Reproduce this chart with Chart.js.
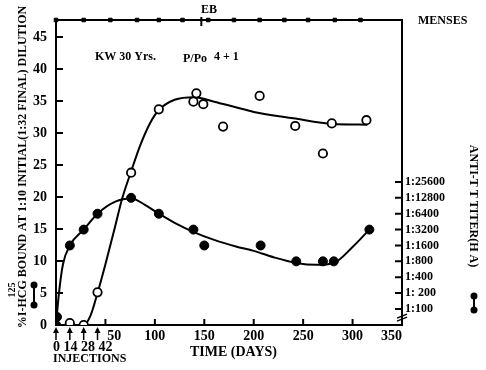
<!DOCTYPE html>
<html>
<head>
<meta charset="utf-8">
<script src="https://cdn.jsdelivr.net/npm/chart.js@4.4.1/dist/chart.umd.min.js"></script>
<style>
  html, body { margin: 0; padding: 0; background: #fff; }
</style>
</head>
<body>
<canvas id="chart" width="486" height="370"></canvas>
<script>
const SERIF = '"Liberation Serif", "Times New Roman", serif';

// open circles: % 125I-HCG bound (left axis)
const hcgDays  = [14, 28, 42, 76, 104, 139, 142, 149, 169, 206, 242, 270, 279, 314];
const hcgBound = [0.3, 0, 5.1, 23.8, 33.7, 34.9, 36.2, 34.5, 31, 35.8, 31.1, 26.8, 31.5, 32];
// hand-drawn fit through the open circles
const hcgFitDays = [0, 14, 28, 35, 42, 50, 60, 67, 76, 85, 95, 104, 120, 140, 160, 180, 200, 240, 280, 315];
const hcgFit     = [0, 0, 0, 1.5, 5, 9.5, 15.5, 19.8, 24, 28, 31.5, 33.6, 35.2, 35.6, 34.9, 34.1, 33.3, 32.3, 31.4, 31.3];

// filled circles: anti-TT titer, in doubling steps above 1:100 (right axis)
const ttDays  = [0, 1, 14, 28, 42, 76, 104, 139, 150, 207, 243, 270, 281, 317];
const ttSteps = [-1, -0.5, 4, 5, 6, 7, 6, 5, 4, 4, 3, 3, 3, 5];
const ttFitDays = [0, 3, 7, 14, 28, 42, 60, 76, 90, 104, 120, 140, 160, 182, 200, 220, 243, 263, 281, 300, 315];
const ttFit     = [-1, 1.0, 2.8, 4.0, 5.0, 6.0, 6.76, 6.96, 6.56, 6.0, 5.43, 4.83, 4.35, 3.94, 3.66, 3.26, 2.9, 2.78, 2.9, 3.9, 4.87];

const titerLabels = ['1:100', '1: 200', '1:400', '1:800', '1:1600', '1:3200', '1:6400', '1:12800', '1:25600'];
const boundTicks = [0, 5, 10, 15, 20, 25, 30, 35, 40, 45];
const timeTicks = [50, 100, 150, 200, 250, 300, 350];

const mensesDays = [0, 28, 55, 82, 104, 128, 154, 180, 206, 231, 255, 282, 308];
const ebDay = 147;
const injectionDays = [0, 14, 28, 42];

const Y_MAX = 47.66;
const Y2_MIN = -1.008, Y2_MAX = 18.2;

const pts = (xs, ys) => xs.map((x, i) => ({ x: x, y: ys[i] }));

const decor = {
    id: 'decor',
    afterDraw(chart) {
        const ctx = chart.ctx;
        const { x, y, y2 } = chart.scales;
        const area = chart.chartArea;
        ctx.save();
        ctx.strokeStyle = '#000';
        ctx.fillStyle = '#000';
        ctx.lineWidth = 2;

        // inward ticks
        ctx.beginPath();
        boundTicks.forEach(v => { const py = y.getPixelForValue(v); ctx.moveTo(area.left, py); ctx.lineTo(area.left + 7, py); });
        timeTicks.forEach(v => { const px = x.getPixelForValue(v); ctx.moveTo(px, area.bottom); ctx.lineTo(px, area.bottom - 6); });
        titerLabels.forEach((l, i) => { const py = y2.getPixelForValue(i); ctx.moveTo(area.right, py); ctx.lineTo(area.right - 7, py); });
        ctx.stroke();

        // axis break on the right axis
        ctx.lineWidth = 1.5;
        ctx.beginPath();
        const yb = y2.getPixelForValue(-0.45);
        ctx.moveTo(area.right - 5, yb + 2); ctx.lineTo(area.right + 5, yb - 2);
        ctx.moveTo(area.right - 5, yb + 5); ctx.lineTo(area.right + 5, yb + 1);
        ctx.stroke();

        // EB mark
        ctx.lineWidth = 2;
        const ex = x.getPixelForValue(ebDay);
        ctx.beginPath(); ctx.moveTo(ex, area.top - 3); ctx.lineTo(ex, area.top + 6); ctx.stroke();

        // injection arrows
        ctx.lineWidth = 1.5;
        injectionDays.forEach(d => {
            const px = x.getPixelForValue(d);
            ctx.beginPath();
            ctx.moveTo(px, area.bottom + 15); ctx.lineTo(px, area.bottom + 4);
            ctx.stroke();
            ctx.beginPath();
            ctx.moveTo(px, area.bottom + 2); ctx.lineTo(px - 3, area.bottom + 8); ctx.lineTo(px + 3, area.bottom + 8);
            ctx.closePath(); ctx.fill();
        });

        // texts
        ctx.textBaseline = 'middle';
        ctx.textAlign = 'left';
        ctx.font = 'bold 12px ' + SERIF;
        ctx.fillText('MENSES', 418, 21);
        ctx.fillText('KW 30 Yrs.', 95, 57);
        ctx.fillText('P/Po', 183, 59);
        ctx.fillText('4 + 1', 214, 57);
        ctx.fillText('INJECTIONS', 53, 359);
        ctx.textAlign = 'center';
        ctx.fillText('EB', 209, 10);
        ctx.textAlign = 'left';
        ctx.font = 'bold 14px ' + SERIF;
        ctx.fillText('0 14 28 42', 53, 347);
        ctx.fillText('TIME (DAYS)', 190, 352);

        // left axis title
        ctx.save();
        ctx.translate(22.5, 167);
        ctx.rotate(-Math.PI / 2);
        ctx.textAlign = 'center';
        ctx.font = 'bold 12px ' + SERIF;
        ctx.fillText('%I-HCG BOUND AT 1:10 INITIAL(1:32 FINAL) DILUTION', 0, 0);
        ctx.restore();
        ctx.save();
        ctx.translate(12, 290);
        ctx.rotate(-Math.PI / 2);
        ctx.textAlign = 'center';
        ctx.font = 'bold 10px ' + SERIF;
        ctx.fillText('125', 0, 0);
        ctx.restore();

        // right axis title
        ctx.save();
        ctx.translate(473, 206);
        ctx.rotate(Math.PI / 2);
        ctx.textAlign = 'center';
        ctx.font = 'bold 12px ' + SERIF;
        ctx.fillText('ANTI-T T TITER(H A)', 0, 0);
        ctx.restore();

        // legend keys
        const key = (kx, ya, yb2) => {
            ctx.lineWidth = 2;
            ctx.beginPath(); ctx.moveTo(kx, ya); ctx.lineTo(kx, yb2); ctx.stroke();
            [ya, yb2].forEach(ky => { ctx.beginPath(); ctx.arc(kx, ky, 3.5, 0, Math.PI * 2); ctx.fill(); });
        };
        key(34, 285, 305);
        key(474, 296, 310);

        ctx.restore();
    }
};

new Chart(document.getElementById('chart'), {
    type: 'scatter',
    data: {
        datasets: [
            {
                data: pts(hcgFitDays, hcgFit), showLine: true, cubicInterpolationMode: 'monotone',
                borderColor: '#000', borderWidth: 2, pointRadius: 0, yAxisID: 'y', order: 3
            },
            {
                data: pts(ttFitDays, ttFit), showLine: true, cubicInterpolationMode: 'monotone',
                borderColor: '#000', borderWidth: 2, pointRadius: 0, yAxisID: 'y2', order: 3
            },
            {
                data: pts(hcgDays, hcgBound), yAxisID: 'y', order: 1,
                pointRadius: 4.2, pointBackgroundColor: '#fff', pointBorderColor: '#000', pointBorderWidth: 1.8
            },
            {
                data: pts(ttDays, ttSteps), yAxisID: 'y2', order: 1,
                pointRadius: 4.5, pointBackgroundColor: '#000', pointBorderColor: '#000', pointBorderWidth: 1
            },
            {
                data: mensesDays.map(d => ({ x: d, y: Y_MAX })), yAxisID: 'y', order: 2, clip: false,
                pointStyle: 'rect', pointRadius: 2.5, pointBackgroundColor: '#000', pointBorderColor: '#000'
            }
        ]
    },
    options: {
        responsive: false,
        animation: false,
        devicePixelRatio: 1,
        layout: { padding: 0 },
        plugins: { legend: { display: false }, tooltip: { enabled: false } },
        scales: {
            x: {
                type: 'linear', position: 'bottom', min: 0, max: 350,
                afterBuildTicks: s => { s.ticks = timeTicks.map(v => ({ value: v })); },
                afterFit: s => { s.height = 45; },
                grid: { display: false, drawTicks: false },
                border: { display: true, color: '#000', width: 2 },
                ticks: {
                    padding: 3, color: '#000', maxRotation: 0,
                    font: { family: SERIF, size: 14, weight: 'bold' },
                    callback: v => v === 50 ? '     50' : v === 350 ? '350      ' : String(v)
                }
            },
            xTop: {
                type: 'linear', position: 'top', min: 0, max: 350,
                afterFit: s => { s.height = 20; },
                grid: { display: false, drawTicks: false },
                border: { display: true, color: '#000', width: 2 },
                ticks: { display: false }
            },
            y: {
                type: 'linear', position: 'left', min: 0, max: Y_MAX,
                afterBuildTicks: s => { s.ticks = boundTicks.map(v => ({ value: v })); },
                afterFit: s => { s.width = 56; },
                grid: { display: false, drawTicks: false },
                border: { display: true, color: '#000', width: 2 },
                ticks: { padding: 9, color: '#000', font: { family: SERIF, size: 14, weight: 'bold' } }
            },
            y2: {
                type: 'linear', position: 'right', min: Y2_MIN, max: Y2_MAX,
                afterBuildTicks: s => { s.ticks = titerLabels.map((l, i) => ({ value: i })); },
                afterFit: s => { s.width = 84; },
                grid: { display: false, drawTicks: false },
                border: { display: true, color: '#000', width: 2 },
                ticks: {
                    padding: 3, color: '#000', font: { family: SERIF, size: 12, weight: 'bold' },
                    callback: v => titerLabels[v]
                }
            }
        }
    },
    plugins: [decor]
});
</script>
</body>
</html>
